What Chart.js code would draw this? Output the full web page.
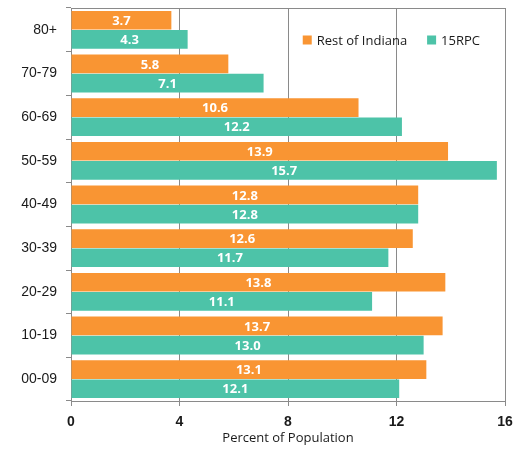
<!DOCTYPE html>
<html>
<head>
<meta charset="utf-8">
<script src="https://cdn.jsdelivr.net/npm/chart.js@4/dist/chart.umd.min.js"></script>
<style>
  html, body { margin: 0; padding: 0; background: #fff; }
  #wrap { width: 518px; height: 451px; }
</style>
</head>
<body>
<div id="wrap"><canvas id="ageChart"></canvas></div>
<script>
// ---------- data ----------
const AGE_GROUPS = ["80+", "70-79", "60-69", "50-59", "40-49", "30-39", "20-29", "10-19", "00-09"];
const REST_OF_INDIANA = [3.7, 5.8, 10.6, 13.9, 12.8, 12.6, 13.8, 13.7, 13.1];
const RPC15 = [4.3, 7.1, 12.2, 15.7, 12.8, 11.7, 11.1, 13.0, 12.1];
const X_TICKS = [0, 4, 8, 12, 16];

const COLORS = {
  orange: "#F99533",
  teal: "#4DC3A8",
  grid: "#8a8a8a",
  text: "#1a1a1a"
};

Chart.defaults.font.family = "'Liberation Sans', Arial, sans-serif";
Chart.defaults.color = COLORS.text;

// 차트 영역 위/오른쪽 테두리
const frameLine = {
  id: "frameLine",
  beforeDatasetsDraw(chart) {
    const { ctx, chartArea: a } = chart;
    ctx.save();
    ctx.strokeStyle = COLORS.grid;
    ctx.lineWidth = 1;
    ctx.beginPath();
    ctx.moveTo(a.left, a.top + 0.5);
    ctx.lineTo(a.right + 0.5, a.top + 0.5);
    ctx.lineTo(a.right + 0.5, a.bottom);
    ctx.stroke();
    ctx.restore();
  }
};

// 막대 안의 값 라벨
const barValues = {
  id: "barValues",
  afterDatasetsDraw(chart) {
    const { ctx } = chart;
    ctx.save();
    ctx.fillStyle = "#fff";
    ctx.font = "bold 13px 'Open Sans', 'Liberation Sans', sans-serif";
    ctx.textAlign = "center";
    ctx.textBaseline = "middle";
    chart.data.datasets.forEach((ds, i) => {
      chart.getDatasetMeta(i).data.forEach((bar, j) => {
        const cx = (bar.base + bar.x) / 2;
        ctx.fillText(ds.data[j].toFixed(1), cx, bar.y + 1);
      });
    });
    ctx.restore();
  }
};

// 차트 영역 안쪽 범례
const innerLegend = {
  id: "innerLegend",
  afterDraw(chart) {
    const { ctx, chartArea: a } = chart;
    const box = 9, gapBox = 5, gapItem = 20;
    ctx.save();
    ctx.font = "13px 'Open Sans', 'Liberation Sans', sans-serif";
    ctx.textBaseline = "middle";
    const items = chart.data.datasets.map((ds) => ({
      text: ds.label,
      color: ds.backgroundColor,
      w: box + gapBox + ctx.measureText(ds.label).width
    }));
    const total = items.reduce((s, it) => s + it.w, 0) + gapItem * (items.length - 1);
    let x = a.right - 25 - total;
    const y = a.top + 32;
    items.forEach((it) => {
      ctx.fillStyle = it.color;
      ctx.fillRect(x, y - box / 2, box, box);
      ctx.fillStyle = COLORS.text;
      ctx.fillText(it.text, x + box + gapBox, y + 1);
      x += it.w + gapItem;
    });
    ctx.restore();
  }
};

new Chart(document.getElementById("ageChart"), {
  type: "bar",
  data: {
    labels: AGE_GROUPS,
    datasets: [
      {
        label: "Rest of Indiana",
        data: REST_OF_INDIANA,
        backgroundColor: COLORS.orange,
        categoryPercentage: 0.88,
        barPercentage: 0.97
      },
      {
        label: "15RPC",
        data: RPC15,
        backgroundColor: COLORS.teal,
        categoryPercentage: 0.88,
        barPercentage: 0.97
      }
    ]
  },
  options: {
    indexAxis: "y",
    responsive: true,
    maintainAspectRatio: false,
    animation: false,
    layout: { padding: { top: 8, right: 13, left: 0, bottom: 0 } },
    plugins: {
      legend: { display: false },
      tooltip: { enabled: false }
    },
    scales: {
      x: {
        min: 0,
        max: 16,
        afterBuildTicks: (axis) => { axis.ticks = X_TICKS.map((v) => ({ value: v })); },
        afterFit: (axis) => {
          axis.height = 50;
          axis.paddingLeft = 0;
          axis.paddingRight = 0;
        },
        grid: { color: COLORS.grid, tickLength: 5, drawOnChartArea: true },
        border: { color: COLORS.grid },
        ticks: { font: { size: 14, weight: "bold" }, color: COLORS.text, padding: 8 },
        title: {
          display: true,
          text: "Percent of Population",
          font: { size: 13, family: "'Open Sans', 'Liberation Sans', sans-serif" },
          color: COLORS.text,
          padding: { top: 0, bottom: 5 }
        }
      },
      y: {
        afterFit: (axis) => {
          axis.width = 71;
          axis.paddingTop = 0;
          axis.paddingBottom = 0;
        },
        grid: { drawOnChartArea: false, offset: true, tickLength: 5, color: COLORS.grid },
        border: { color: COLORS.grid },
        ticks: { font: { size: 14 }, color: COLORS.text, padding: 9 }
      }
    }
  },
  plugins: [frameLine, barValues, innerLegend]
});
</script>
</body>
</html>
